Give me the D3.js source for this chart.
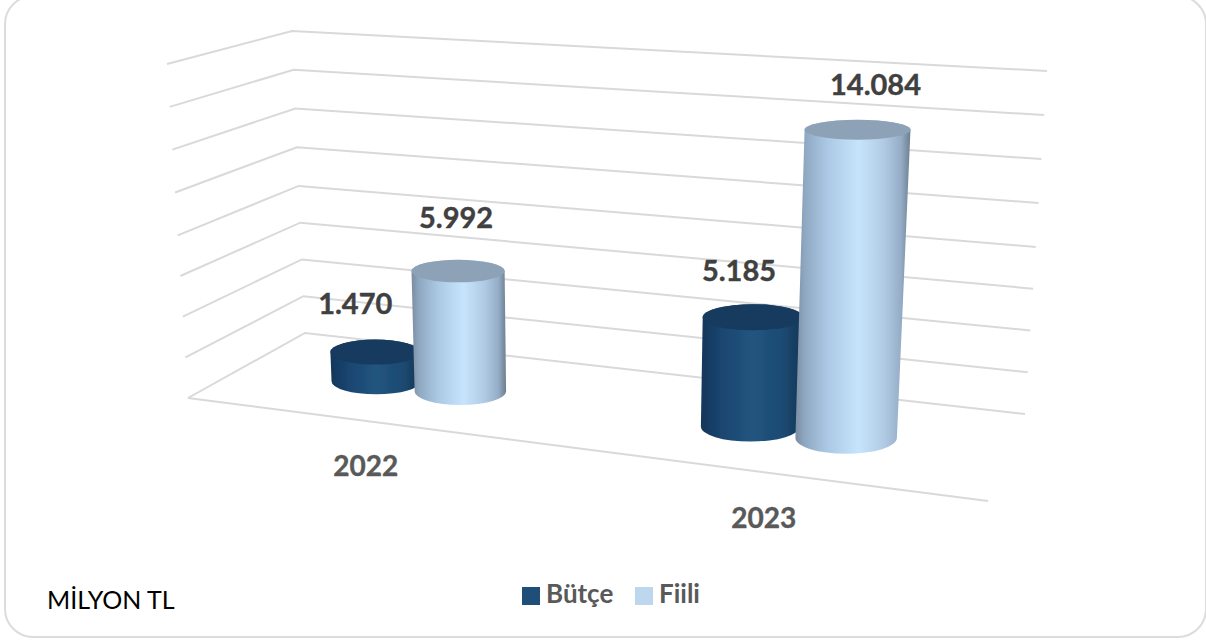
<!DOCTYPE html>
<html><head><meta charset="utf-8">
<script src="https://cdn.jsdelivr.net/npm/d3@7"></script>
<style>html,body{margin:0;padding:0;background:#fff}svg{display:block}text{font-family:Lato,sans-serif}</style>
</head><body><svg id="c" width="1206" height="641"></svg>
<script>
const categories = ["2022", "2023"];
const seriesNames = ["Bütçe", "Fiili"];
const butceValues = [1470, 5185];
const fiiliValues = [5992, 14084];
const gridTicks = [0, 2000, 4000, 6000, 8000, 10000, 12000, 14000, 16000];
const unitLabel = "MİLYON TL";

// layout: box corners of the 3D plot, front-left, front-right, back-right, back-left
const floorQuad = [[188,398],[988,501],[1025,414],[305,333]];
const ceilQuad  = [[167,64],[1008,123],[1047,71],[292,31]];
const fmt = d3.formatLocale({decimal:",",thousands:".",grouping:[3],currency:["",""]}).format(",");
function bilinear(q){
  return (u,v)=>[0,1].map(k=>(1-v)*((1-u)*q[0][k]+u*q[1][k])+v*((1-u)*q[3][k]+u*q[2][k]));
}
const floorAt = bilinear(floorQuad), ceilAt = bilinear(ceilQuad);
const tScale = d3.scaleLinear().domain([0,8000,16000]).range([0,0.487,1]);
function P(u,v,val){
  const t=tScale(val),a=floorAt(u,v),b=ceilAt(u,v);
  return [a[0]+(b[0]-a[0])*t,a[1]+(b[1]-a[1])*t];
}
const uCat = d3.scaleBand().domain(categories).range([-0.024,0.976]);
const uSer = d3.scaleBand().domain(seriesNames).range([-0.116,0.116]);
const persp = d3.scaleLinear().domain([0,1]).range([0.896,1.158]);
const barU = d3.scaleLinear().domain([0,1]).range([0.113,0.139]);
const barV = 0.38, midV = 0.5;

const svg = d3.select("#c");
const defs = svg.append("defs");
const grads = {
 "Bütçe":[[0,"#14365a"],[.2,"#1a4570"],[.5,"#22557f"],[.8,"#1c4a72"],[1,"#143655"]],
 "Fiili":[[0,"#7b8c9f"],[.08,"#8fa8c2"],[.28,"#abc9e4"],[.55,"#c7e4fd"],[.78,"#b0c9e2"],[.92,"#94acc5"],[1,"#6d7e8f"]]
};
const topFill = {"Bütçe":"#173a5e","Fiili":"#8da2b7"};
const swatch = {"Bütçe":"#1f4e79","Fiili":"#bdd7ee"};
seriesNames.forEach((s,i)=>{
  const g=defs.append("linearGradient").attr("id","g"+i).attr("x1",0).attr("x2",1).attr("y1",0).attr("y2",0);
  grads[s].forEach(([o,c])=>g.append("stop").attr("offset",o).attr("stop-color",c));
});
defs.append("filter").attr("id","soft").append("feGaussianBlur").attr("stdDeviation",0.5);

svg.append("rect").attr("x",5).attr("y",-4).attr("width",1201).attr("height",641).attr("rx",28)
  .attr("fill","#fff").attr("stroke","#dcdcdc").attr("stroke-width",2);

// gridlines
const line=d3.line();
const grid=svg.append("g").attr("fill","none").attr("stroke","#d9d9d9").attr("stroke-width",2);
grid.selectAll("path.w").data(gridTicks).join("path").attr("class","w")
  .attr("d",d=>line([P(0,0,d),P(0,1,d),P(1,1,d)]));
grid.append("path").attr("d",line([P(0,0,0),P(1,0,0)]));

// cylinders
const data=[];
categories.forEach((c,ci)=>{
  seriesNames.forEach((s,si)=>{
    data.push({c,s,si,value:(si?fiiliValues:butceValues)[ci]});
  });
});
function geom(d){
  const cu=uCat(d.c)+uCat.bandwidth()/2;
  const u=cu+(uSer(d.s)+uSer.bandwidth()/2)*persp(cu);
  const w=barU(u);
  const ell=val=>{
    const c=P(u,midV,val),l=P(u-w/2,midV,val),r=P(u+w/2,midV,val);
    const f=P(u,midV-barV/2,val),b=P(u,midV+barV/2,val);
    return {cx:c[0],cy:c[1],rx:(r[0]-l[0])/2,ry:Math.abs(f[1]-b[1])/2};
  };
  return {base:ell(0),top:ell(d.value)};
}
const bars=svg.append("g").attr("filter","url(#soft)");
data.forEach(d=>{
  const {base:b,top:t}=geom(d); d.top=t;
  bars.append("path").attr("fill",`url(#g${d.si})`)
    .attr("d",`M${t.cx-t.rx},${t.cy}L${b.cx-b.rx},${b.cy}A${b.rx},${b.ry} 0 0 0 ${b.cx+b.rx},${b.cy}L${t.cx+t.rx},${t.cy}A${t.rx},${t.ry} 0 0 0 ${t.cx-t.rx},${t.cy}Z`);
  bars.append("ellipse").attr("cx",t.cx).attr("cy",t.cy).attr("rx",t.rx).attr("ry",t.ry).attr("fill",topFill[d.s]);
});

// value labels
const labelNudge = [[-20,-38],[-2,-43],[-14,-36],[18,-35]];
svg.append("g").selectAll("text").data(data).join("text")
  .attr("x",(d,i)=>d.top.cx+labelNudge[i][0]).attr("y",(d,i)=>d.top.cy+labelNudge[i][1])
  .attr("text-anchor","middle").attr("font-size",29).attr("font-weight",700).attr("fill","#404040")
  .attr("stroke","#404040").attr("stroke-width",0.4)
  .text(d=>fmt(d.value));

// category labels
const catNudge = [-3,-5];
svg.append("g").selectAll("text").data(categories).join("text")
  .attr("x",(d,i)=>P(uCat(d)+uCat.bandwidth()/2,0,0)[0]+catNudge[i])
  .attr("y",d=>P(uCat(d)+uCat.bandwidth()/2,0,0)[1]+55)
  .attr("text-anchor","middle").attr("font-size",28).attr("font-weight",700).attr("fill","#595959")
  .attr("stroke","#595959").attr("stroke-width",0.4).text(d=>d);

// legend
const lx=d3.scaleOrdinal().domain(seriesNames).range([522,635]);
const leg=svg.append("g").selectAll("g").data(seriesNames).join("g").attr("transform",d=>`translate(${lx(d)},587)`);
leg.append("rect").attr("width",18).attr("height",18).attr("fill",d=>swatch[d]);
leg.append("text").attr("x",24).attr("y",16).attr("font-size",26).attr("font-weight",700).attr("fill","#595959").text(d=>d);

svg.append("text").attr("x",47).attr("y",609).attr("font-size",25).attr("fill","#000").text(unitLabel);
</script></body></html>
